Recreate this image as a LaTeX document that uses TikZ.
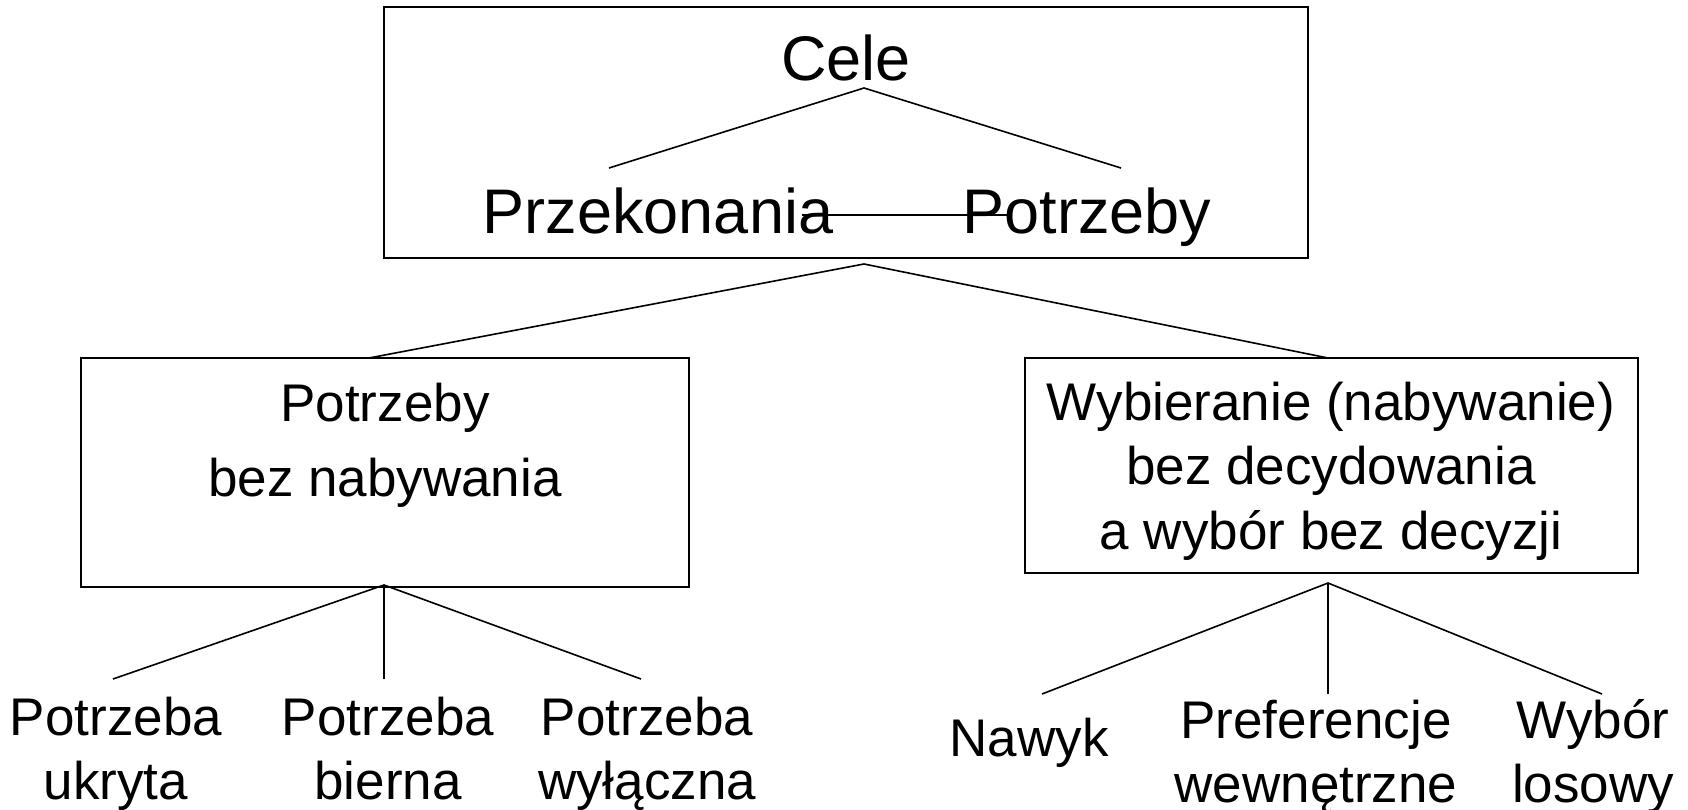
\documentclass[tikz,border=0pt]{standalone}
\usepackage{fontspec}
\setmainfont{Liberation Sans}
\begin{document}
\begin{tikzpicture}[x=1pt,y=-1pt,
  box/.style={draw, line width=2pt, rectangle, inner sep=0pt},
  big/.style={inner sep=0pt, anchor=base, font=\fontsize{63}{70}\selectfont},
  txt/.style={inner sep=0pt, anchor=base, font=\fontsize{53}{60}\selectfont},
  conn/.style={line width=1.6pt}]
\useasboundingbox (0,0) rectangle (1688,810);
% boxes
\node[box, minimum width=924pt, minimum height=251pt] (top) at (846,133) {};
\node[box, minimum width=608pt, minimum height=229pt] (L) at (385,472.5) {};
\node[box, minimum width=613pt, minimum height=215pt] (R) at (1331.5,465.5) {};
% top texts
\node[big] (cele) at (846,81) {Cele};
\node[big] (przek) at (658,234) {Przekonania};
\node[big] (potrz) at (1087,234) {Potrzeby};
% left box text
\node[txt] (l1) at (385,421) {Potrzeby};
\node[txt] (l2) at (385,496) {bez nabywania};
% right box text
\node[txt] (r1) at (1331,420) {Wybieranie (nabywanie)};
\node[txt] (r2) at (1331,484) {bez decydowania};
\node[txt] (r3) at (1331,549) {a wybór bez decyzji};
% bottom left labels
\node[txt] (pu1) at (116,735) {Potrzeba};
\node[txt] (pu2) at (116,799) {ukryta};
\node[txt] (pb1) at (388,735) {Potrzeba};
\node[txt] (pb2) at (388,799) {bierna};
\node[txt] (pw1) at (647,735) {Potrzeba};
\node[txt] (pw2) at (647,799) {wyłączna};
% bottom right labels
\node[txt] (nawyk) at (1029,756) {Nawyk};
\node[txt] (pref1) at (1316,738) {Preferencje};
\node[txt] (pref2) at (1316,802) {wewnętrzne};
\node[txt] (wyb1) at (1593,738) {Wybór};
\node[txt] (wyb2) at (1593,802) {losowy};
% connector points
\coordinate (ca) at (864,88);
\coordinate (cl) at (609,168);
\coordinate (cr) at (1121,168);
\coordinate (hl) at (802,215);
\coordinate (hr) at (1007,215);
\coordinate (ta) at (864,264);
\coordinate (tl) at (369,358);
\coordinate (tr) at (1328,358);
\coordinate (la) at (384,585);
\coordinate (l1e) at (113,679);
\coordinate (l2e) at (384,679);
\coordinate (l3e) at (641,679);
\coordinate (ra) at (1328,583);
\coordinate (r1e) at (1042,694);
\coordinate (r2e) at (1328,694);
\coordinate (r3e) at (1602,694);
% connectors
\draw[conn] (cl) -- (ca) -- (cr);
\draw[conn] (hl) -- (hr);
\draw[conn] (tl) -- (ta) -- (tr);
\draw[conn] (l1e) -- (la) -- (l3e);
\draw[conn] (la) -- (l2e);
\draw[conn] (r1e) -- (ra) -- (r3e);
\draw[conn] (ra) -- (r2e);
\end{tikzpicture}
\end{document}
